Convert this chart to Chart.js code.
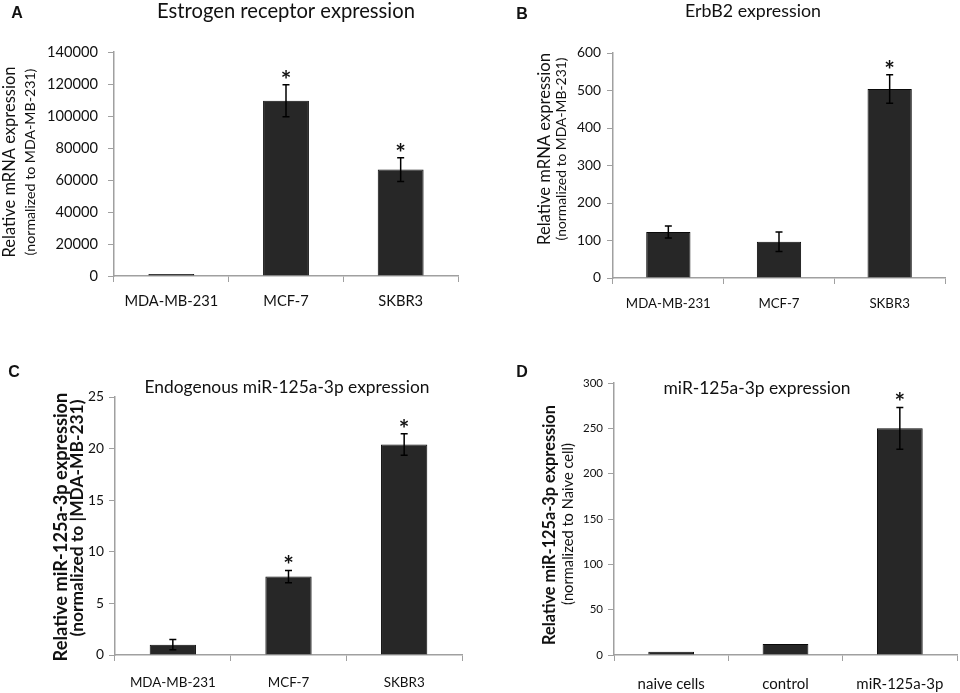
<!DOCTYPE html>
<html>
<head>
<meta charset="utf-8">
<script src="https://cdn.jsdelivr.net/npm/chart.js@4.4.1/dist/chart.umd.min.js"></script>
<style>
  body { margin: 0; background: #fff; width: 960px; height: 693px; position: relative; overflow: hidden; }
  canvas { position: absolute; }
</style>
</head>
<body>
<canvas id="chartA" width="480" height="340" style="left:0;top:0"></canvas>
<canvas id="chartB" width="480" height="340" style="left:480px;top:0"></canvas>
<canvas id="chartC" width="480" height="353" style="left:0;top:340px"></canvas>
<canvas id="chartD" width="480" height="353" style="left:480px;top:340px"></canvas>
<script>
// Data
const cellLines = ['MDA-MB-231', 'MCF-7', 'SKBR3'];
const transfGroups = ['naive cells', 'control', 'miR-125a-3p'];

const erValues = [1, 109500, 66500];
const erErrors = [0, 10000, 7400];
const erStars = [false, true, true];
const erTicks = [0, 20000, 40000, 60000, 80000, 100000, 120000, 140000];

const erbb2Values = [123, 97, 504];
const erbb2Errors = [16, 26, 38];
const erbb2Stars = [false, false, true];
const erbb2Ticks = [0, 100, 200, 300, 400, 500, 600];

const endoValues = [1.0, 7.6, 20.4];
const endoErrors = [0.5, 0.6, 1.05];
const endoStars = [false, true, true];
const endoTicks = [0, 5, 10, 15, 20, 25];

const transfValues = [3.5, 12, 250];
const transfErrors = [0, 0, 23];
const transfStars = [false, false, true];
const transfTicks = [0, 50, 100, 150, 200, 250, 300];

const FONT = 'Lato, "Open Sans", sans-serif';
const INK = '#111';
const AXIS = '#a0a0a0';

const measureCtx = document.createElement('canvas').getContext('2d');

// font size that makes the text as wide as in the figure
function fitSize(ctx, text, weight, width) {
    ctx.font = `${weight} 20px ${FONT}`;
    return 20 * width / ctx.measureText(text).width;
}

// panel letter, title and rotated y titles
const textPlugin = {
    id: 'panelText',
    afterDraw(chart, args, o) {
        const ctx = chart.ctx;
        ctx.save();
        ctx.fillStyle = INK;
        ctx.textAlign = 'center';
        ctx.textBaseline = 'middle';
        ctx.font = 'bold 16px "Liberation Sans", Arial, sans-serif';
        ctx.fillText(o.letter, o.letterX, o.letterY);
        const ts = fitSize(ctx, o.title, 'normal', o.titleWidth);
        ctx.font = `normal ${ts}px ${FONT}`;
        ctx.fillText(o.title, o.titleX, o.titleY);
        o.yTitle.forEach(t => {
            const s = fitSize(ctx, t.text, t.weight, t.width);
            ctx.save();
            ctx.translate(t.x, t.y);
            ctx.rotate(-Math.PI / 2);
            ctx.font = `${t.weight} ${s}px ${FONT}`;
            ctx.fillText(t.text, 0, 0);
            ctx.restore();
        });
        ctx.restore();
    }
};

// error bars + significance stars
const errorPlugin = {
    id: 'errorBars',
    afterDatasetsDraw(chart, args, o) {
        const ctx = chart.ctx;
        const ys = chart.scales.y;
        const vals = chart.data.datasets[0].data;
        const meta = chart.getDatasetMeta(0);
        ctx.save();
        ctx.strokeStyle = '#000';
        ctx.fillStyle = INK;
        ctx.lineWidth = 1.5;
        meta.data.forEach((bar, i) => {
            const e = o.errors[i];
            const x = bar.x;
            const top = ys.getPixelForValue(vals[i] + e);
            if (e > 0) {
                const bot = ys.getPixelForValue(vals[i] - e);
                ctx.beginPath();
                ctx.moveTo(x, top); ctx.lineTo(x, bot);
                ctx.moveTo(x - 3.5, top); ctx.lineTo(x + 3.5, top);
                ctx.moveTo(x - 3.5, bot); ctx.lineTo(x + 3.5, bot);
                ctx.stroke();
            }
            if (o.stars[i]) {
                ctx.font = `bold 25px ${FONT}`;
                ctx.textAlign = 'center';
                ctx.textBaseline = 'alphabetic';
                ctx.fillText('*', x, top + 4);
            }
        });
        ctx.restore();
    }
};

function makePanel(id, p) {
    const xFont = fitSize(measureCtx, p.xFit[0], 'normal', p.xFit[1]);
    const yFont = fitSize(measureCtx, p.yFit[0], 'normal', p.yFit[1]);
    return new Chart(document.getElementById(id), {
        type: 'bar',
        data: {
            labels: p.labels,
            datasets: [{
                data: p.values,
                backgroundColor: '#272727',
                borderColor: '#0a0a0a',
                borderWidth: 1,
                barPercentage: 0.4,
                categoryPercentage: 1,
                minBarLength: 2
            }]
        },
        options: {
            responsive: false,
            animation: false,
            layout: { padding: { top: p.padTop, right: p.padRight, left: 0, bottom: 0 } },
            plugins: {
                legend: { display: false },
                tooltip: { enabled: false },
                panelText: p.text,
                errorBars: { errors: p.errors, stars: p.stars }
            },
            scales: {
                x: {
                    grid: { drawOnChartArea: false, color: AXIS, tickLength: 6 },
                    border: { color: AXIS, width: 1.5 },
                    ticks: { color: INK, font: { family: FONT, size: xFont }, padding: p.xPad, maxRotation: 0 },
                    afterFit: s => { s.height = p.xHeight; }
                },
                y: {
                    min: 0,
                    max: p.ticks[p.ticks.length - 1],
                    afterBuildTicks: s => { s.ticks = p.ticks.map(v => ({ value: v })); },
                    grid: { drawOnChartArea: false, color: AXIS, tickLength: 6 },
                    border: { color: AXIS, width: 1.5 },
                    ticks: { color: INK, font: { family: FONT, size: yFont }, padding: p.yPad, callback: v => String(v) },
                    afterFit: s => { s.width = p.yWidth; }
                }
            }
        },
        plugins: [textPlugin, errorPlugin]
    });
}

makePanel('chartA', {
    labels: cellLines, values: erValues, errors: erErrors, stars: erStars, ticks: erTicks,
    padTop: 52, padRight: 22, yWidth: 114, xHeight: 64,
    xFit: ['MDA-MB-231', 94], xPad: 10, yFit: ['140000', 51], yPad: 10,
    text: {
        letter: 'A', letterX: 17, letterY: 14,
        title: 'Estrogen receptor expression', titleX: 286, titleY: 11, titleWidth: 258,
        yTitle: [
            { text: 'Relative mRNA expression', x: 10, y: 162, width: 191, weight: 'normal' },
            { text: '(normalized to MDA-MB-231)', x: 30, y: 162, width: 187, weight: 'normal' }
        ]
    }
});

makePanel('chartB', {
    labels: cellLines, values: erbb2Values, errors: erbb2Errors, stars: erbb2Stars, ticks: erbb2Ticks,
    padTop: 53, padRight: 15, yWidth: 133, xHeight: 62,
    xFit: ['MDA-MB-231', 85], xPad: 12, yFit: ['600', 24], yPad: 6,
    text: {
        letter: 'B', letterX: 42, letterY: 15,
        title: 'ErbB2 expression', titleX: 273, titleY: 11, titleWidth: 136,
        yTitle: [
            { text: 'Relative mRNA expression', x: 65, y: 149, width: 192, weight: 'normal' },
            { text: '(normalized to MDA-MB-231)', x: 82, y: 149, width: 183, weight: 'normal' }
        ]
    }
});

makePanel('chartC', {
    labels: cellLines, values: endoValues, errors: endoErrors, stars: endoStars, ticks: endoTicks,
    padTop: 57, padRight: 18, yWidth: 115, xHeight: 38,
    xFit: ['MDA-MB-231', 86], xPad: 14, yFit: ['25', 16], yPad: 5,
    text: {
        letter: 'C', letterX: 14, letterY: 33,
        title: 'Endogenous miR-125a-3p expression', titleX: 287, titleY: 47, titleWidth: 285,
        yTitle: [
            { text: 'Relative miR-125a-3p expression', x: 61, y: 187, width: 269, weight: 'bold' },
            { text: '(normalized to |MDA-MB-231)', x: 77, y: 178, width: 237, weight: 'bold' }
        ]
    }
});

makePanel('chartD', {
    labels: transfGroups, values: transfValues, errors: transfErrors, stars: transfStars, ticks: transfTicks,
    padTop: 43, padRight: 3, yWidth: 134, xHeight: 38,
    xFit: ['miR-125a-3p', 87], xPad: 14, yFit: ['300', 20], yPad: 5,
    text: {
        letter: 'D', letterX: 42, letterY: 33,
        title: 'miR-125a-3p expression', titleX: 277, titleY: 48, titleWidth: 187,
        yTitle: [
            { text: 'Relative miR-125a-3p expression', x: 70, y: 185, width: 240, weight: 'bold' },
            { text: '(normalized to Naive cell)', x: 88, y: 184, width: 162, weight: 'normal' }
        ]
    }
});
</script>
</body>
</html>
